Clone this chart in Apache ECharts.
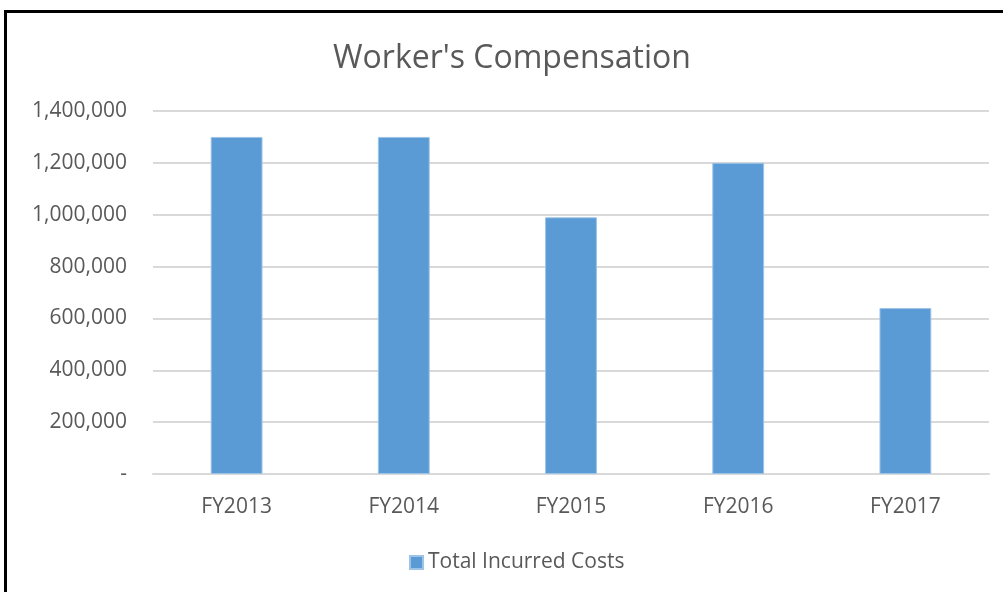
<!DOCTYPE html>
<html><head><meta charset="utf-8">
<script src="https://cdn.jsdelivr.net/npm/echarts@6/dist/echarts.min.js"></script>
<style>html,body{margin:0;padding:0;background:#fff}#c{width:1003px;height:592px}</style>
</head><body><div id="c"></div>
<script>
const categories = ['FY2013','FY2014','FY2015','FY2016','FY2017'];
const totalIncurredCosts = [1300000, 1300000, 990000, 1200000, 640000];
const seriesName = 'Total Incurred Costs';
const titleText = "Worker's Compensation";
const FONT = '"Open Sans", "Liberation Sans", sans-serif';
const chart = echarts.init(document.getElementById('c'));
chart.setOption({
  animation: false,
  backgroundColor: '#fff',
  title: { text: titleText, left: 328, top: 38, textStyle: { fontFamily: FONT, fontSize: 32, fontWeight: 'normal', color: '#595959' } },
  legend: { bottom: 14, left: 404, itemWidth: 13, itemHeight: 13, itemGap: 6, icon: 'rect',
    textStyle: { fontFamily: FONT, fontSize: 21, color: '#595959' }, data: [seriesName] },
  grid: { left: 153, right: 14, top: 111, bottom: 118 },
  xAxis: { type: 'category', data: categories,
    axisLine: { lineStyle: { color: '#d9d9d9', width: 2 } }, axisTick: { show: false },
    axisLabel: { fontFamily: FONT, fontSize: 21, color: '#595959', margin: 23 } },
  yAxis: { type: 'value', min: 0, max: 1400000, interval: 200000,
    axisLine: { show: false }, axisTick: { show: false },
    splitLine: { lineStyle: { color: '#d9d9d9', width: 2 } },
    axisLabel: { fontFamily: FONT, fontSize: 21, color: '#595959', margin: 26,
      formatter: v => v === 0 ? '-' : v.toLocaleString('en-US') } },
  series: [{ name: seriesName, type: 'bar', data: totalIncurredCosts, barWidth: '31%',
    itemStyle: { color: '#5b9bd5', borderColor: '#9dc3e6', borderWidth: 1 } }],
  graphic: [{ type: 'rect', shape: { x: 5.5, y: 11.5, width: 3000, height: 3000 },
    style: { fill: 'none', stroke: '#000', lineWidth: 3 }, z: 100 }]
});
</script></body></html>
